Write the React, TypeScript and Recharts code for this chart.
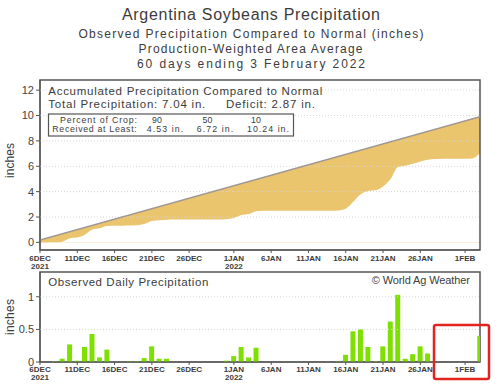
import React from 'react';
import { ComposedChart, Area, Line, Bar, XAxis, YAxis, ReferenceLine, ReferenceArea } from 'recharts';

// x axis: day index 0 = 6 Dec 2021 ... 59 = 3 Feb 2022
const tickDays = [0, 5, 10, 15, 20, 26, 31, 36, 41, 46, 51, 57];
const tickLabels = ['6DEC', '11DEC', '16DEC', '21DEC', '26DEC', '1JAN', '6JAN', '11JAN', '16JAN', '21JAN', '26JAN', '1FEB'];
const tickYears = ['2021', '', '', '', '', '2022', '', '', '', '', '', ''];

// accumulated observed precipitation (inches), one value per day
const accumulated = [
  0.0, 0.0, 0.01, 0.06, 0.33, 0.38, 0.6, 1.02, 1.12, 1.3,
  1.32, 1.32, 1.33, 1.36, 1.45, 1.68, 1.74, 1.79, 1.8, 1.8,
  1.8, 1.8, 1.8, 1.8, 1.8, 1.82, 1.92, 2.15, 2.24, 2.46,
  2.5, 2.5, 2.5, 2.5, 2.5, 2.5, 2.5, 2.5, 2.5, 2.5,
  2.52, 2.66, 3.2, 3.8, 4.05, 4.1, 4.4, 5.0, 5.95, 6.05,
  6.2, 6.38, 6.52, 6.57, 6.6, 6.6, 6.6, 6.6, 6.62, 7.04,
];

// observed daily precipitation (inches)
const daily = [
  0, 0, 0.01, 0.05, 0.27, 0.02, 0.23, 0.43, 0.07, 0.19,
  0, 0, 0.01, 0.01, 0.06, 0.24, 0.05, 0.05, 0, 0,
  0, 0, 0, 0, 0, 0.02, 0.09, 0.23, 0.07, 0.22,
  0, 0, 0, 0, 0, 0, 0, 0, 0, 0,
  0.01, 0.11, 0.47, 0.5, 0.23, 0.01, 0.24, 0.62, 1.03, 0.05,
  0.12, 0.24, 0.13, 0, 0, 0, 0, 0, 0, 0.4,
];

// accumulated normal: straight line between first and last day
const normalStart = 0.18;
const normalEnd = 9.91;

const totalPrecip = 7.04;
const deficit = 2.87;
const cropPercents = [90, 50, 10];
const receivedAtLeast = [4.53, 6.72, 10.24];

const topTicks = [0, 2, 4, 6, 8, 10, 12];
const bottomTicks = [0, 0.5, 1];

const lastDay = accumulated.length - 1;
const data = accumulated.map((v, i) => ({
  day: i,
  observed: v,
  normal: i === 0 ? normalStart : i === lastDay ? normalEnd : null,
  precip: daily[i],
}));

const FONT = '"Liberation Sans", Arial, sans-serif';
const INK = '#3c3c3c';
const FRAME = '#555';

function DateTick(props: any) {
  const { x, y, payload, l1, l2 } = props;
  const i = tickDays.indexOf(payload.value);
  return (
    <g>
      <text x={x} y={y + l1} textAnchor="middle" fontSize={8} fontWeight="bold" fill={INK} fontFamily={FONT}>
        {tickLabels[i]}
      </text>
      {tickYears[i] && (
        <text x={x} y={y + l2} textAnchor="middle" fontSize={8} fontWeight="bold" fill={INK} fontFamily={FONT}>
          {tickYears[i]}
        </text>
      )}
    </g>
  );
}

const yTick = { fontSize: 11, fill: '#444', fontFamily: FONT };

export default function App() {
  return (
    <div style={{ position: 'absolute', left: 0, top: 0, width: 500, height: 387, background: '#fff', overflow: 'hidden' }}>
      <div style={{ position: 'absolute', left: 0, top: 79 }}>
        <ComposedChart width={500} height={192} data={data} margin={{ top: 1, right: 20, bottom: 0, left: 0 }}>
          <XAxis
            dataKey="day"
            type="number"
            domain={[0, lastDay]}
            ticks={tickDays}
            interval={0}
            allowDataOverflow
            height={21}
            tickSize={3}
            tickMargin={0}
            axisLine={{ stroke: FRAME }}
            tickLine={{ stroke: FRAME }}
            tick={(p: any) => <DateTick {...p} l1={7.5} l2={16} />}
          />
          <YAxis
            type="number"
            domain={[-0.6, 12.8]}
            ticks={topTicks}
            interval={0}
            allowDataOverflow
            width={40}
            tickSize={4}
            tickMargin={2}
            axisLine={{ stroke: FRAME }}
            tickLine={{ stroke: FRAME }}
            tick={yTick}
          />
          <Area dataKey="normal" type="linear" connectNulls baseValue={0} fill="#ebc46e" fillOpacity={1} stroke="none" isAnimationActive={false} />
          <Area dataKey="observed" type="monotone" baseValue={0} fill="#ffffff" fillOpacity={1} stroke="none" isAnimationActive={false} />
          {topTicks.slice(1).map((t) => (
            <ReferenceLine key={t} y={t} stroke="#d6d6d6" strokeDasharray="1 2" />
          ))}
          <Line dataKey="normal" type="linear" connectNulls stroke="#9e9893" strokeWidth={1.5} dot={false} isAnimationActive={false} />
          <ReferenceArea x1={0} x2={lastDay} y1={-0.6} y2={12.8} fill="none" stroke={FRAME} strokeWidth={1.5} />
        </ComposedChart>
      </div>

      <div style={{ position: 'absolute', left: 0, top: 271 }}>
        <ComposedChart width={500} height={116} data={data} margin={{ top: 1, right: 20, bottom: 0, left: 0 }}>
          <XAxis
            dataKey="day"
            type="number"
            domain={[0, lastDay]}
            ticks={tickDays}
            interval={0}
            allowDataOverflow
            height={25}
            tickSize={3}
            tickMargin={0}
            axisLine={{ stroke: FRAME }}
            tickLine={{ stroke: FRAME }}
            tick={(p: any) => <DateTick {...p} l1={7} l2={15} />}
          />
          <YAxis
            type="number"
            domain={[0, 1.38]}
            ticks={bottomTicks}
            interval={0}
            allowDataOverflow
            width={40}
            tickSize={4}
            tickMargin={2}
            axisLine={{ stroke: FRAME }}
            tickLine={{ stroke: FRAME }}
            tick={yTick}
          />
          {bottomTicks.slice(1).map((t) => (
            <ReferenceLine key={t} y={t} stroke="#d6d6d6" strokeDasharray="1 2" />
          ))}
          <Bar dataKey="precip" fill="#7ee000" barSize={5} isAnimationActive={false} />
          <ReferenceArea x1={0} x2={lastDay} y1={0} y2={1.38} fill="none" stroke={FRAME} strokeWidth={1.5} />
        </ComposedChart>
      </div>

      <svg width={500} height={387} style={{ position: 'absolute', left: 0, top: 0, pointerEvents: 'none' }} fontFamily={FONT} fill={INK}>
        <text x={251} y={20} fontSize={16} textAnchor="middle" textLength={258} lengthAdjust="spacing">
          Argentina Soybeans Precipitation
        </text>
        <text x={251} y={38} fontSize={12} textAnchor="middle" textLength={345} lengthAdjust="spacing">
          Observed Precipitation Compared to Normal (inches)
        </text>
        <text x={250.5} y={53.3} fontSize={12} textAnchor="middle" textLength={224} lengthAdjust="spacing">
          Production-Weighted Area Average
        </text>
        <text x={251} y={68.3} fontSize={12} textAnchor="middle" textLength={228} lengthAdjust="spacing">
          60 days ending 3 February 2022
        </text>

        <text x={48.3} y={94.5} fontSize={11.5} textLength={274} lengthAdjust="spacing">
          Accumulated Precipitation Compared to Normal
        </text>
        <text x={48.3} y={108.3} fontSize={11.5} textLength={157} lengthAdjust="spacing">
          {`Total Precipitation: ${totalPrecip.toFixed(2)} in.`}
        </text>
        <text x={226} y={108.3} fontSize={11.5} textLength={89} lengthAdjust="spacing">
          {`Deficit: ${deficit.toFixed(2)} in.`}
        </text>
        <rect x={48.5} y={114} width={245} height={22} fill="#fff" stroke={FRAME} strokeWidth={1.2} />
        <text x={60} y={122.5} fontSize={8.8} textLength={77} lengthAdjust="spacing">
          Percent of Crop:
        </text>
        {cropPercents.map((p, i) => (
          <text key={p} x={[157, 207.5, 256][i]} y={122.5} fontSize={8.8} textAnchor="middle">
            {p}
          </text>
        ))}
        <text x={52.3} y={132.3} fontSize={8.8} textLength={84.4} lengthAdjust="spacing">
          Received at Least:
        </text>
        {receivedAtLeast.map((v, i) => (
          <text key={v} x={[146.7, 196.7, 247][i]} y={132.3} fontSize={8.8} textLength={v >= 10 ? 42 : 36.6} lengthAdjust="spacing">
            {`${v.toFixed(2)} in.`}
          </text>
        ))}

        <text x={48.3} y={286} fontSize={11.5} textLength={160} lengthAdjust="spacing">
          Observed Daily Precipitation
        </text>
        <text x={371.7} y={284.3} fontSize={11} textLength={98.3} lengthAdjust="spacing">
          © World Ag Weather
        </text>

        <text x={13.5} y={160.5} fontSize={12} textAnchor="middle" textLength={35} lengthAdjust="spacing" transform="rotate(-90 13.5 160.5)">
          inches
        </text>
        <text x={13.5} y={317} fontSize={12} textAnchor="middle" textLength={36} lengthAdjust="spacing" transform="rotate(-90 13.5 317)">
          inches
        </text>

        <rect x={434} y={325} width={55} height={54} rx={2} fill="none" stroke="#e3231d" strokeWidth={2.5} />
      </svg>
    </div>
  );
}
